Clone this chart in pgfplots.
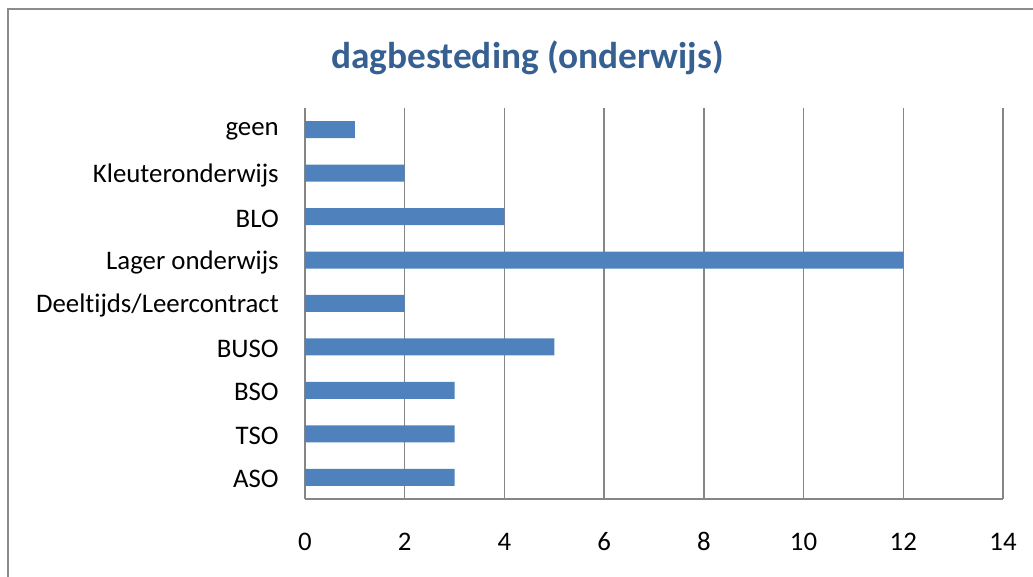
\documentclass[border=0pt]{standalone}
\usepackage{pgfplots}
\pgfplotsset{compat=1.18}
\usepackage{fontspec}
\setmainfont[Ligatures={NoCommon}]{Carlito}
\definecolor{barblue}{HTML}{4F81BD}
\definecolor{titleblue}{HTML}{376092}
\definecolor{gridgray}{HTML}{868686}
\definecolor{framegray}{HTML}{8C8C8C}
\begin{document}
\begin{tikzpicture}[x=0.75pt,y=0.75pt]
\path[use as bounding box] (0,0) rectangle (1033,577);
\draw[framegray, line width=1.2pt] (8,-5) -- (8,568) -- (1040,568);
\node[font=\fontsize{28}{33}\selectfont\bfseries, text=titleblue] at (527.5,519.5) {dagbesteding (onderwijs)};
\begin{axis}[
  at={(228.75pt,58.5pt)}, anchor=south west,
  scale only axis, width=523.5pt, height=293.25pt,
  xmin=0, xmax=14, ymin=-0.5, ymax=8.5,
  xbar, bar width=12.75pt,
  xtick={0,2,...,14}, ytick={0,...,8},
  yticklabels={ASO,TSO,BSO,BUSO,{Deelt\kern0ptijds/Leercontract},Lager onderwijs,BLO,Kleuteronderwijs,geen},
  axis x line=bottom, axis y line=left,
  axis line style={-, gridgray, line width=1.1pt},
  xmajorgrids, grid style={gridgray, line width=1.1pt},
  major tick length=0pt,
  /pgf/number format/assume math mode=true,
  tick label style={font=\fontsize{20.1}{24}\selectfont, text=black},
  xticklabel style={anchor=center, yshift=-32pt},
  yticklabel style={anchor=east, inner sep=0pt, xshift=-19.5pt, yshift=-1.5pt},
]
\addplot[fill=barblue, draw=none] coordinates {(3,0) (3,1) (3,2) (5,3) (2,4) (12,5) (4,6) (2,7) (1,8)};
\end{axis}
\end{tikzpicture}
\end{document}
